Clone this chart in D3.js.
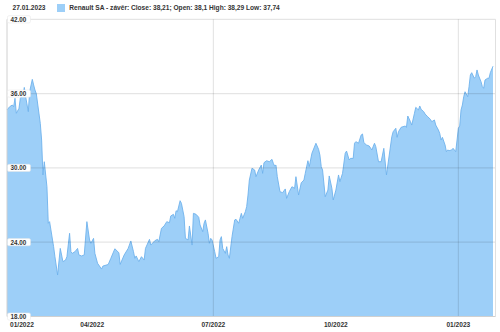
<!DOCTYPE html>
<html><head><meta charset="utf-8">
<script src="https://cdn.jsdelivr.net/npm/d3@7"></script>
<style>body{margin:0;background:#fff}svg{display:block}text{font-family:"Liberation Sans",Arial,sans-serif;font-weight:bold;fill:#333}</style>
</head><body><svg id="c" width="500" height="332"></svg>
<script>
const titleDate = "27.01.2023";
const seriesLabel = "Renault SA - závěr: Close: 38,21; Open: 38,1 High: 38,29 Low: 37,74";
const dates = ["2022-01-27","2022-01-29","2022-01-31","2022-02-01","2022-02-02","2022-02-03","2022-02-05","2022-02-06","2022-02-08","2022-02-09","2022-02-10","2022-02-12","2022-02-13","2022-02-15","2022-02-16","2022-02-17","2022-02-18","2022-02-21","2022-02-22","2022-02-23","2022-02-24","2022-02-26","2022-02-27","2022-02-28","2022-03-03","2022-03-04","2022-03-06","2022-03-08","2022-03-09","2022-03-10","2022-03-12","2022-03-13","2022-03-15","2022-03-16","2022-03-17","2022-03-19","2022-03-21","2022-03-22","2022-03-24","2022-03-26","2022-03-28","2022-03-30","2022-03-31","2022-04-02","2022-04-03","2022-04-05","2022-04-08","2022-04-09","2022-04-13","2022-04-15","2022-04-18","2022-04-21","2022-04-22","2022-04-25","2022-04-28","2022-04-30","2022-05-02","2022-05-03","2022-05-04","2022-05-06","2022-05-08","2022-05-10","2022-05-11","2022-05-14","2022-05-15","2022-05-18","2022-05-20","2022-05-21","2022-05-23","2022-05-25","2022-05-27","2022-05-29","2022-05-30","2022-06-01","2022-06-02","2022-06-03","2022-06-04","2022-06-06","2022-06-07","2022-06-09","2022-06-10","2022-06-12","2022-06-13","2022-06-15","2022-06-16","2022-06-18","2022-06-20","2022-06-21","2022-06-23","2022-06-24","2022-06-25","2022-06-27","2022-06-28","2022-06-29","2022-06-30","2022-07-02","2022-07-03","2022-07-05","2022-07-06","2022-07-07","2022-07-08","2022-07-10","2022-07-11","2022-07-12","2022-07-13","2022-07-15","2022-07-17","2022-07-18","2022-07-20","2022-07-21","2022-07-22","2022-07-23","2022-07-25","2022-07-26","2022-07-27","2022-07-28","2022-07-30","2022-08-01","2022-08-02","2022-08-04","2022-08-06","2022-08-07","2022-08-08","2022-08-10","2022-08-12","2022-08-14","2022-08-15","2022-08-16","2022-08-17","2022-08-18","2022-08-20","2022-08-22","2022-08-24","2022-08-25","2022-08-27","2022-08-29","2022-08-31","2022-09-01","2022-09-03","2022-09-05","2022-09-07","2022-09-08","2022-09-10","2022-09-11","2022-09-13","2022-09-16","2022-09-18","2022-09-19","2022-09-20","2022-09-21","2022-09-23","2022-09-25","2022-09-26","2022-09-28","2022-09-29","2022-10-01","2022-10-03","2022-10-04","2022-10-06","2022-10-08","2022-10-09","2022-10-11","2022-10-12","2022-10-14","2022-10-15","2022-10-16","2022-10-18","2022-10-20","2022-10-21","2022-10-22","2022-10-24","2022-10-26","2022-10-28","2022-10-30","2022-10-31","2022-11-02","2022-11-04","2022-11-06","2022-11-08","2022-11-12","2022-11-13","2022-11-15","2022-11-16","2022-11-17","2022-11-19","2022-11-22","2022-11-23","2022-11-24","2022-11-26","2022-11-27","2022-11-29","2022-11-30","2022-12-02","2022-12-03","2022-12-04","2022-12-06","2022-12-07","2022-12-09","2022-12-11","2022-12-12","2022-12-14","2022-12-15","2022-12-17","2022-12-18","2022-12-19","2022-12-20","2022-12-22","2022-12-23","2022-12-24","2022-12-25","2022-12-27","2022-12-28","2022-12-30","2022-12-31","2023-01-01","2023-01-02","2023-01-03","2023-01-04","2023-01-05","2023-01-06","2023-01-08","2023-01-09","2023-01-10","2023-01-11","2023-01-13","2023-01-14","2023-01-15","2023-01-16","2023-01-18","2023-01-19","2023-01-20","2023-01-21","2023-01-23","2023-01-24","2023-01-25","2023-01-27"];
const closes = [34.68,34.94,35.08,34.94,35.62,34.41,34.81,35.62,35.89,36.5,35.75,34.54,36.15,37.15,36.7,36.29,36.0,33.6,32.25,29.43,30.5,28.48,25.53,25.66,23.64,22.83,21.35,23.5,22.97,22.43,22.56,22.83,24.72,23.23,23.1,23.23,23.5,22.97,22.89,22.97,25.66,24.18,23.91,24.31,23.1,22.3,21.83,22.07,22.2,22.7,23.47,23.15,22.21,22.97,23.5,24.1,23.23,22.7,22.89,22.43,22.83,22.56,23.5,24.23,23.77,24.12,24.23,24.04,25.12,25.31,25.66,25.57,26.12,26.25,25.93,26.54,26.46,27.35,27.14,26.06,24.31,24.18,25.31,23.77,26.33,26.25,26.01,25.39,24.85,25.53,25.8,24.72,23.91,24.31,24.18,23.23,22.7,22.83,24.18,24.45,23.5,23.1,23.64,22.97,22.7,24.45,25.8,25.85,25.53,25.93,26.33,25.93,26.46,26.87,27.81,29.02,29.97,29.83,29.29,29.83,30.23,29.56,30.42,30.58,30.5,30.69,30.37,30.15,30.23,29.29,28.08,28.0,28.3,27.54,28.08,28.48,28.35,29.29,27.81,28.8,29.02,29.56,30.58,30.1,31.18,31.99,31.5,31.04,30.1,29.83,27.67,28.21,29.35,28.35,27.41,28.21,29.43,28.89,29.56,31.18,31.36,30.64,30.77,30.77,31.99,32.12,31.99,32.66,32.74,32.04,31.85,31.77,31.45,31.99,31.71,30.5,30.5,31.58,29.43,32.52,32.92,33.2,32.47,32.92,33.28,33.38,33.28,34.19,33.73,33.46,34.41,34.89,34.68,35.0,34.73,34.54,34.35,34.13,33.92,33.73,33.87,33.46,33.06,32.79,32.25,32.47,31.85,31.31,31.45,31.39,31.45,31.58,31.31,32.25,33.2,33.38,34.68,35.08,35.75,36.15,35.75,36.56,37.5,37.69,37.24,37.37,37.91,37.5,36.96,36.56,36.43,37.1,37.24,37.24,37.69,38.21];
const yTicks = [18, 24, 30, 36, 42];
const xTickDates = ["2022-01-01","2022-04-01","2022-07-01","2022-10-01","2023-01-01"];
const xGridDates = ["2022-07-01","2023-01-01"];

const parse = d3.utcParse("%Y-%m-%d");
const data = dates.map((d,i)=>({date:parse(d), v:closes[i]}));
const svg = d3.select("#c");
const L=7, R=495.5, T=19.3, B=316.5;
const x = d3.scaleUtc().domain([parse("2022-01-27"), parse("2023-01-27")]).range([L, 493]);
const y = d3.scaleLinear().domain([18, 42]).range([B, T]);

// title row
svg.append("text").attr("x",12.5).attr("y",10.2).attr("font-size",6.6).text(titleDate);
svg.append("rect").attr("x",57).attr("y",4).attr("width",8).attr("height",8).attr("fill","#9dcff8");
svg.append("text").attr("x",69.3).attr("y",10.2).attr("font-size",6.6).text(seriesLabel);

// area
svg.append("path").datum(data)
  .attr("fill","#9dcff8")
  .attr("d", d3.area().x(d=>x(d.date)).y0(B).y1(d=>y(d.v)));
svg.append("path").datum(data)
  .attr("fill","none").attr("stroke","#6fb2ec").attr("stroke-width",0.9)
  .attr("d", d3.line().x(d=>x(d.date)).y(d=>y(d.v)));

// grid lines over area
const g = svg.append("g");
g.selectAll(".hg").data(yTicks.filter(t=>t>18)).join("line")
  .attr("x1",L).attr("x2",R).attr("y1",d=>y(d)).attr("y2",d=>y(d))
  .attr("stroke","rgba(0,0,0,0.1)").attr("stroke-width",1.2);
g.selectAll(".vg").data(xGridDates).join("line")
  .attr("x1",d=>x(parse(d))).attr("x2",d=>x(parse(d))).attr("y1",T).attr("y2",B)
  .attr("stroke","rgba(0,0,0,0.1)").attr("stroke-width",1.2);
// frame
svg.append("line").attr("x1",L).attr("x2",L).attr("y1",T).attr("y2",B).attr("stroke","#d0d0d0");
svg.append("line").attr("x1",R).attr("x2",R).attr("y1",T).attr("y2",B).attr("stroke","#e0e0e0");
svg.append("line").attr("x1",L).attr("x2",R).attr("y1",B).attr("y2",B).attr("stroke","#d0d0d0");

// y labels with white boxes
const yl = svg.append("g").selectAll("g").data(yTicks).join("g");
yl.append("rect").attr("x",7.5).attr("y",d=>y(d)-3.6).attr("width",23).attr("height",7.2)
  .attr("rx",1.5).attr("fill","#fff").attr("stroke","#e4e4e4").attr("stroke-width",0.5);
yl.append("text").attr("x",10.5).attr("y",d=>y(d)+2.3).attr("font-size",6.3)
  .text(d=>d3.format(".2f")(d));

// x labels
const fmt = d3.utcFormat("%m/%Y");
svg.append("g").selectAll("text").data(xTickDates).join("text")
  .attr("y",326.5).attr("font-size",6.6).attr("text-anchor","middle")
  .text(d=>fmt(parse(d)))
  .attr("x",function(d){const w=this.getComputedTextLength();return Math.max(x(parse(d)), L+3+w/2);});
</script></body></html>
